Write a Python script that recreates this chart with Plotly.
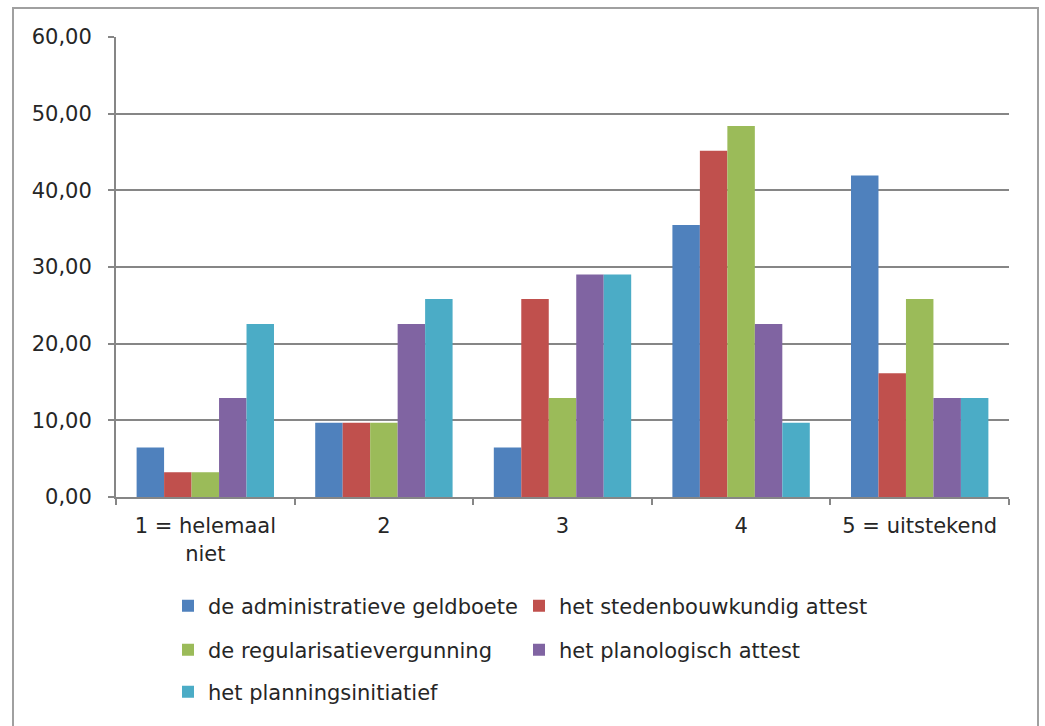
import plotly.graph_objects as go

# Rating categories (x axis)
categories = ["1 = helemaal<br>niet", "2", "3", "4", "5 = uitstekend"]

# Percentage of respondents per rating, one list per instrument
geldboete = [6.45, 9.68, 6.45, 35.48, 41.94]
stedenbouwkundig = [3.23, 9.68, 25.81, 45.16, 16.13]
regularisatie = [3.23, 9.68, 12.90, 48.39, 25.81]
planologisch = [12.90, 22.58, 29.03, 22.58, 12.90]
planningsinitiatief = [22.58, 25.81, 29.03, 9.68, 12.90]

series_names = [
    "de administratieve geldboete",
    "het stedenbouwkundig attest",
    "de regularisatievergunning",
    "het planologisch attest",
    "het planningsinitiatief",
]
series_values = [geldboete, stedenbouwkundig, regularisatie, planologisch, planningsinitiatief]
colors = ["#4F81BD", "#C0504D", "#9BBB59", "#8064A2", "#4BACC6"]
legend_ids = ["legend", "legend", "legend2", "legend2", "legend3"]

y_ticks = [0, 10, 20, 30, 40, 50, 60]

W, H = 1045, 726
L, R, T, B = 116, 36, 37, 229
pw, ph = W - L - R, H - T - B

def px_x(x):
    return (x - L) / pw

def px_y(y):
    return (H - B - y) / ph

fig = go.Figure()
for name, vals, col, lg in zip(series_names, series_values, colors, legend_ids):
    fig.add_trace(go.Bar(
        x=categories, y=vals, name=name, legend=lg,
        marker=dict(color=col, line=dict(width=0)),
    ))

font = dict(family="DejaVu Sans", size=21, color="#262626")
axis_col = "#868686"

legend_common = dict(
    orientation="h", xanchor="left", yanchor="middle",
    x=px_x(168), entrywidth=306, entrywidthmode="pixels",
    font=font, bgcolor="rgba(0,0,0,0)", borderwidth=0,
    itemclick=False, itemdoubleclick=False,
)

fig.update_layout(
    width=W, height=H,
    margin=dict(l=L, r=R, t=T, b=B, autoexpand=False),
    paper_bgcolor="white", plot_bgcolor="white",
    font=font,
    separators=", ",
    barmode="group", bargap=1.5 / 6.5, bargroupgap=0,
    showlegend=True,
    legend=dict(legend_common, y=px_y(606)),
    legend2=dict(legend_common, y=px_y(650)),
    legend3=dict(legend_common, y=px_y(692)),
    xaxis=dict(
        showgrid=False, showline=True, linecolor=axis_col, linewidth=2,
        ticks="outside", ticklen=6, tickcolor=axis_col, tickwidth=2,
        tickson="boundaries", tickfont=font, ticklabelstandoff=9,
    ),
    yaxis=dict(
        range=[0, 60], tickvals=y_ticks, tickformat=".2f",
        showgrid=True, gridcolor=axis_col, gridwidth=2,
        showline=True, linecolor=axis_col, linewidth=2,
        ticks="outside", ticklen=6, tickcolor=axis_col, tickwidth=2,
        tickfont=font, ticklabelstandoff=12, zeroline=False,
    ),
    shapes=[dict(
        type="rect", xref="paper", yref="paper",
        x0=px_x(13), x1=px_x(1038), y0=px_y(740), y1=px_y(8),
        line=dict(color="#A0A0A0", width=2), fillcolor="rgba(0,0,0,0)",
        layer="below",
    )],
)

fig.write_html("out.html")
